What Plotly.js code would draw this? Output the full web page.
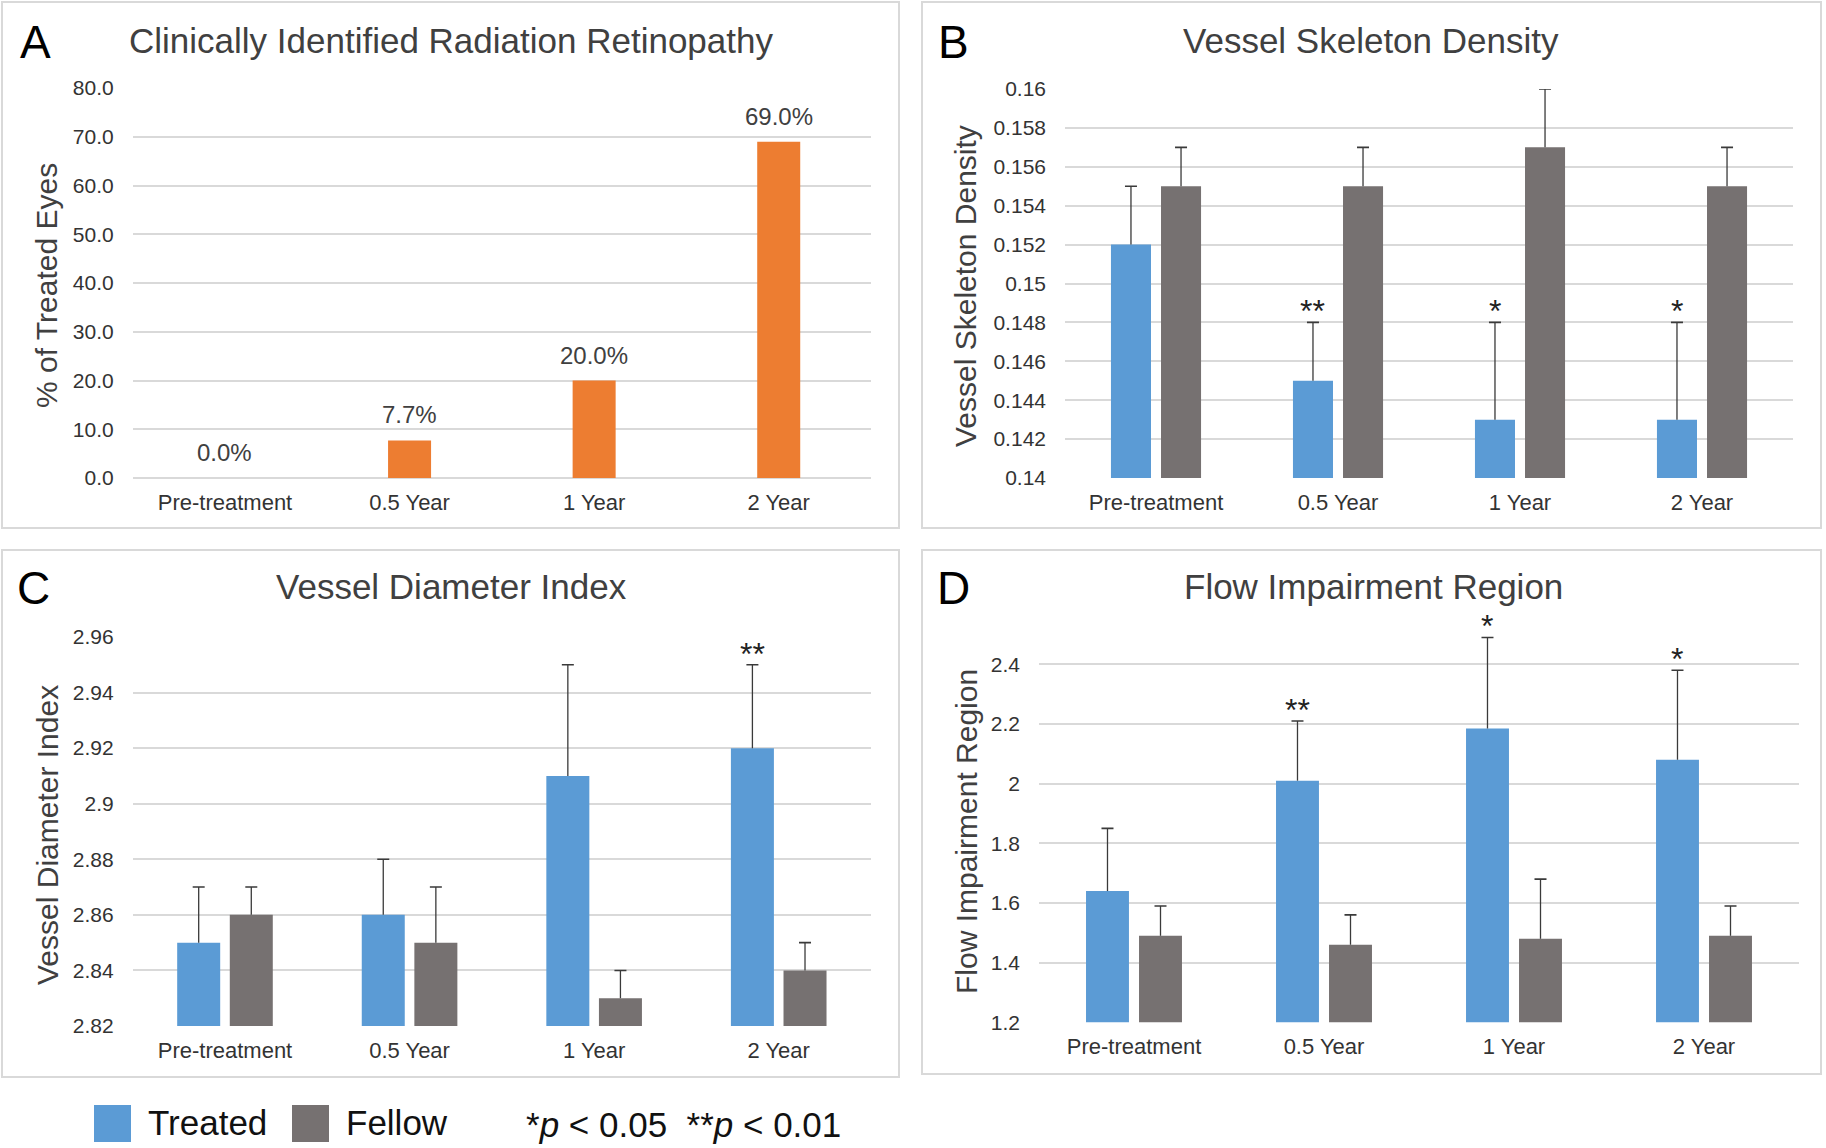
<!DOCTYPE html>
<html>
<head>
<meta charset="utf-8">
<script src="https://cdn.plot.ly/plotly-3.0.1.min.js"></script>
<style>
  html, body { margin: 0; padding: 0; background: #fff; }
  #chart { width: 1826px; height: 1148px; }
</style>
</head>
<body>
<div id="chart"></div>
<script>
// ---------------- DATA ----------------
const categories = ['Pre-treatment', '0.5 Year', '1 Year', '2 Year'];

// Panel A: Clinically Identified Radiation Retinopathy (% of treated eyes)
const retinopathyPct = [0.0, 7.7, 20.0, 69.0];
const retinopathyTicks = [0, 10, 20, 30, 40, 50, 60, 70, 80];
const retinopathyTickText = ['0.0', '10.0', '20.0', '30.0', '40.0', '50.0', '60.0', '70.0', '80.0'];

// Panel B: Vessel Skeleton Density
const vsdTreated = [0.152, 0.145, 0.143, 0.143];
const vsdTreatedErr = [0.003, 0.003, 0.005, 0.005];
const vsdFellow = [0.155, 0.155, 0.157, 0.155];
const vsdFellowErr = [0.002, 0.002, 0.003, 0.002];
const vsdSig = ['', '**', '*', '*'];
const vsdTicks = [0.14, 0.142, 0.144, 0.146, 0.148, 0.15, 0.152, 0.154, 0.156, 0.158, 0.16];
const vsdTickText = ['0.14', '0.142', '0.144', '0.146', '0.148', '0.15', '0.152', '0.154', '0.156', '0.158', '0.16'];

// Panel C: Vessel Diameter Index
const vdiTreated = [2.85, 2.86, 2.91, 2.92];
const vdiTreatedErr = [0.02, 0.02, 0.04, 0.03];
const vdiFellow = [2.86, 2.85, 2.83, 2.84];
const vdiFellowErr = [0.01, 0.02, 0.01, 0.01];
const vdiSig = ['', '', '', '**'];
const vdiTicks = [2.82, 2.84, 2.86, 2.88, 2.90, 2.92, 2.94, 2.96];
const vdiTickText = ['2.82', '2.84', '2.86', '2.88', '2.9', '2.92', '2.94', '2.96'];

// Panel D: Flow Impairment Region
const firTreated = [1.64, 2.01, 2.185, 2.08];
const firTreatedErr = [0.21, 0.20, 0.305, 0.30];
const firFellow = [1.49, 1.46, 1.48, 1.49];
const firFellowErr = [0.10, 0.10, 0.20, 0.10];
const firSig = ['', '**', '*', '*'];
const firTicks = [1.2, 1.4, 1.6, 1.8, 2.0, 2.2, 2.4];
const firTickText = ['1.2', '1.4', '1.6', '1.8', '2', '2.2', '2.4'];

// ---------------- STYLE ----------------
const W = 1826, H = 1148;
const BLUE = '#5B9BD5', GREY = '#767171', ORANGE = '#ED7D31';
const GRID = '#d9d9d9';
const ERR = '#3a3a3a';
const FONT = 'Liberation Sans, Arial, Helvetica, sans-serif';
const TXT = '#404040';
const px = x => x / W;
const py = y => 1 - y / H;

const zeros = n => new Array(n).fill(0);

// one series: visible bar with a plus-only stem, and a transparent carrier whose top holds the cap
function seriesTraces(name, xa, ya, vals, errs, color, w, off) {
  const tops = vals.map((v, i) => v + errs[i]);
  return [
    {
      type: 'bar', name: name, x: categories, y: vals, xaxis: xa, yaxis: ya,
      width: w, offset: off, marker: { color: color },
      error_y: { type: 'data', symmetric: false, array: errs, arrayminus: zeros(errs.length),
                 color: ERR, thickness: 1.3, width: 0 },
      hoverinfo: 'y'
    },
    {
      type: 'bar', name: name + ' cap', x: categories, y: tops, xaxis: xa, yaxis: ya,
      width: w, offset: off, marker: { color: 'rgba(0,0,0,0)' },
      error_y: { type: 'data', array: zeros(errs.length), color: ERR, thickness: 1.6, width: 6 },
      hoverinfo: 'skip', showlegend: false
    }
  ];
}

function pairTraces(xa, ya, tVals, tErr, fVals, fErr, w, g) {
  return [
    ...seriesTraces('Treated', xa, ya, tVals, tErr, BLUE, w, -w - g / 2),
    ...seriesTraces('Fellow', xa, ya, fVals, fErr, GREY, w, g / 2)
  ];
}

const geomB = { w: 0.22, g: 0.055 };
const geomC = { w: 0.233, g: 0.052 };
const geomD = { w: 0.226, g: 0.053 };

const data = [
  {
    type: 'bar', name: '% of Treated Eyes', x: categories, y: retinopathyPct,
    xaxis: 'x', yaxis: 'y', width: 0.233, marker: { color: ORANGE }, hoverinfo: 'y'
  },
  ...pairTraces('x2', 'y2', vsdTreated, vsdTreatedErr, vsdFellow, vsdFellowErr, geomB.w, geomB.g),
  ...pairTraces('x3', 'y3', vdiTreated, vdiTreatedErr, vdiFellow, vdiFellowErr, geomC.w, geomC.g),
  ...pairTraces('x4', 'y4', firTreated, firTreatedErr, firFellow, firFellowErr, geomD.w, geomD.g)
];

function xAxis(domain, anchor) {
  return {
    domain: domain, anchor: anchor, type: 'category', showgrid: false, showline: false,
    zeroline: false, ticks: '', tickfont: { size: 22, color: '#333', family: FONT },
    ticklabelstandoff: 9, fixedrange: true
  };
}
function yAxis(domain, anchor, range, tv, tt, zl) {
  return {
    domain: domain, anchor: anchor, range: range, tickvals: tv, ticktext: tt,
    showgrid: true, gridcolor: GRID, gridwidth: 2, showline: false,
    zeroline: !!zl, zerolinecolor: GRID, zerolinewidth: 2,
    ticks: '', tickfont: { size: 21, color: '#333', family: FONT },
    ticklabelstandoff: 18, fixedrange: true
  };
}

const annotations = [];
function addText(x, y, text, size, opts) {
  annotations.push(Object.assign({
    xref: 'paper', yref: 'paper', x: px(x), y: py(y), text: text, showarrow: false,
    font: { size: size, color: TXT, family: FONT }, xanchor: 'center', yanchor: 'middle'
  }, opts || {}));
}

// panel titles and letters
addText(451, 40, 'Clinically Identified Radiation Retinopathy', 35);
addText(1371, 40, 'Vessel Skeleton Density', 35);
addText(451, 586, 'Vessel Diameter Index', 35);
addText(1373, 586, 'Flow Impairment Region', 35);
[['A', 35, 42], ['B', 953, 42], ['C', 33, 588], ['D', 953, 588]].forEach(l =>
  addText(l[1], l[2], l[0], 46, { font: { size: 46, color: '#000', family: FONT } }));

// y-axis titles
addText(46, 286, '% of Treated Eyes', 30, { textangle: -90 });
addText(965, 286, 'Vessel Skeleton Density', 30, { textangle: -90 });
addText(47, 835, 'Vessel Diameter Index', 30, { textangle: -90 });
addText(966, 832, 'Flow Impairment Region', 30, { textangle: -90 });

// panel A value labels
retinopathyPct.forEach((v, i) => {
  annotations.push({
    xref: 'x', yref: 'y', x: categories[i], y: v, text: v.toFixed(1) + '%',
    showarrow: false, yanchor: 'bottom', yshift: 10,
    font: { size: 24, color: TXT, family: FONT }
  });
});

// significance markers
function addSig(xr, yr, sig, vals, errs, geom) {
  sig.forEach((s, i) => {
    if (!s) return;
    annotations.push({
      xref: xr, yref: yr, x: i - geom.g / 2 - geom.w / 2, y: vals[i] + errs[i],
      text: s, showarrow: false, yanchor: 'bottom', yshift: -9,
      font: { size: 32, color: '#222', family: FONT }
    });
  });
}
addSig('x2', 'y2', vsdSig, vsdTreated, vsdTreatedErr, geomB);
addSig('x3', 'y3', vdiSig, vdiTreated, vdiTreatedErr, geomC);
addSig('x4', 'y4', firSig, firTreated, firTreatedErr, geomD);

// legend text
addText(146, 1122, 'Treated', 35, { xanchor: 'left', font: { size: 35, color: '#111', family: FONT } });
addText(344, 1122, 'Fellow', 35, { xanchor: 'left', font: { size: 35, color: '#111', family: FONT } });
addText(524, 1124, '*<i>p</i> &lt; 0.05  **<i>p</i> &lt; 0.01', 35, { xanchor: 'left', font: { size: 35, color: '#111', family: FONT } });

const shapes = [];
function rect(x0, y0, x1, y1, line, fill) {
  shapes.push({
    type: 'rect', xref: 'paper', yref: 'paper', x0: px(x0), x1: px(x1), y0: py(y1), y1: py(y0),
    line: line, fillcolor: fill || 'rgba(0,0,0,0)', layer: 'below'
  });
}
// panel frames
rect(2, 2, 899, 528, { color: GRID, width: 2 });
rect(922, 2, 1821, 528, { color: GRID, width: 2 });
rect(2, 550, 899, 1077, { color: GRID, width: 2 });
rect(922, 550, 1821, 1074, { color: GRID, width: 2 });
// legend swatches
rect(94, 1105, 131, 1142, { width: 0 }, BLUE);
rect(292, 1105, 329, 1142, { width: 0 }, GREY);

const layout = {
  width: W, height: H,
  margin: { l: 0, r: 0, t: 0, b: 0, pad: 0 },
  paper_bgcolor: '#fff', plot_bgcolor: 'rgba(0,0,0,0)',
  showlegend: false, barmode: 'overlay',
  font: { family: FONT, color: '#333' },
  xaxis: xAxis([px(132.7), px(871)], 'y'),
  yaxis: yAxis([py(478), py(88)], 'x', [0, 80], retinopathyTicks, retinopathyTickText, true),
  xaxis2: xAxis([px(1065), px(1793)], 'y2'),
  yaxis2: yAxis([py(478), py(89)], 'x2', [0.14, 0.16], vsdTicks, vsdTickText),
  xaxis3: xAxis([px(132.7), px(871)], 'y3'),
  yaxis3: yAxis([py(1026), py(637)], 'x3', [2.82, 2.96], vdiTicks, vdiTickText),
  xaxis4: xAxis([px(1039), px(1799)], 'y4'),
  yaxis4: yAxis([py(1022.3), py(634.5)], 'x4', [1.2, 2.5], firTicks, firTickText),
  annotations: annotations,
  shapes: shapes
};

Plotly.newPlot('chart', data, layout, { displayModeBar: false, staticPlot: true });
</script>
</body>
</html>
